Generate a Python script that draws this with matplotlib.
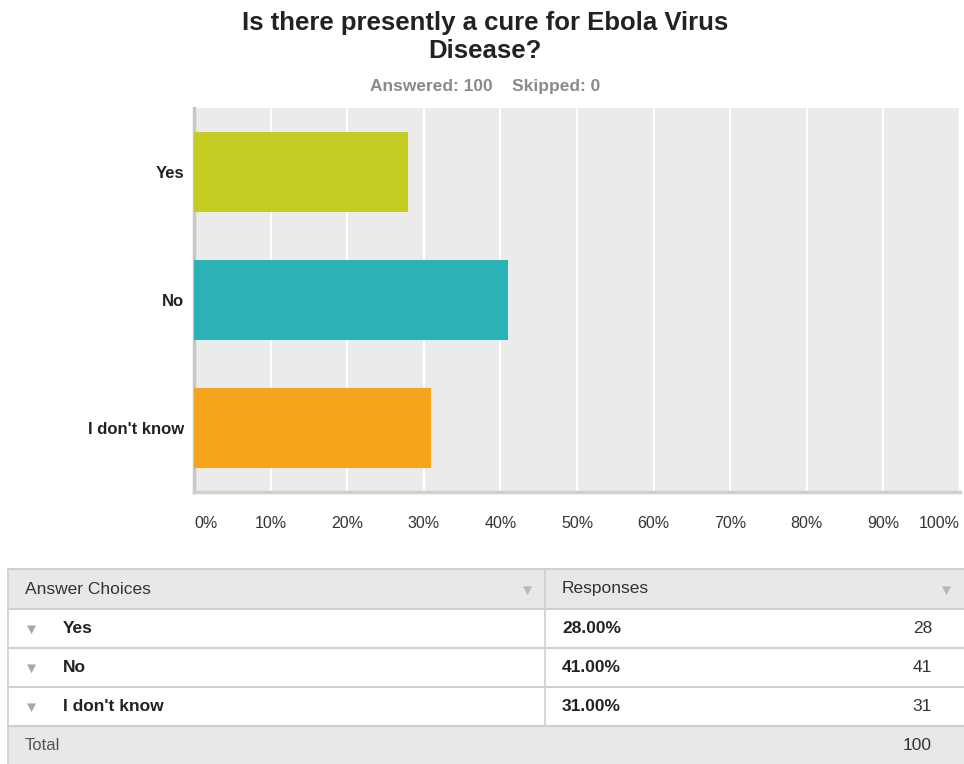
import numpy as np
import matplotlib.pyplot as plt
from matplotlib.patches import Rectangle

plt.rcParams['font.family'] = ['Liberation Sans', 'DejaVu Sans']

# data
categories = ["Yes", "No", "I don't know"]
percents = [28.0, 41.0, 31.0]
counts = [28, 41, 31]
colors = ["#c5cd22", "#2bb2b7", "#f5a51b"]
tick_vals = [0, 10, 20, 30, 40, 50, 60, 70, 80, 90, 100]
tick_labels = [f"{v}%" for v in tick_vals]
answered = 100
skipped = 0
title = "Is there presently a cure for Ebola Virus\nDisease?"

W, H = 964, 764
fig = plt.figure(figsize=(W / 100, H / 100), dpi=100)

# overlay axes in pixel coords for text + table
ov = fig.add_axes([0, 0, 1, 1])
ov.set_xlim(0, W)
ov.set_ylim(H, 0)
ov.axis('off')

# chart axes
x0, x1, y0, y1 = 194, 960, 108, 492
ax = fig.add_axes([x0 / W, 1 - y1 / H, (x1 - x0) / W, (y1 - y0) / H])
ax.set_facecolor('#ebebeb')
y = np.arange(len(categories))
ax.barh(y, percents, height=0.625, color=colors, zorder=3)
ax.set_xlim(0, 100)
ax.set_ylim(len(categories) - 0.5, -0.5)
ax.set_xticks(tick_vals)
ax.set_xticklabels(tick_labels, fontsize=11.5, color='#333333')
ax.set_yticks(y)
ax.set_yticklabels(categories, fontsize=12, fontweight='bold', color='#222222')
ax.tick_params(axis='x', length=0, pad=17)
ax.tick_params(axis='y', length=0, pad=7)
labs = ax.get_xticklabels()
labs[0].set_ha('left')
labs[-1].set_ha('right')
ax.grid(axis='x', color='white', linewidth=1.5, zorder=1)
for s in ['top', 'right']:
    ax.spines[s].set_visible(False)
ax.spines['left'].set_color('#c8c8c8')
ax.spines['left'].set_linewidth(2.5)
ax.spines['bottom'].set_color('#cfcfcf')
ax.spines['bottom'].set_linewidth(2.5)

# titles
ov.text(485, 37, title, ha='center', va='center', fontsize=18.5,
        fontweight='bold', color='#222222', linespacing=1.2)
ov.text(485, 86, f"Answered: {answered}    Skipped: {skipped}", ha='center',
        va='center', fontsize=12.5, fontweight='bold', color='#8a8a8a')

# table
tx0, tx1, xdiv = 8, 964, 545
row_h = 39
top = 569
line_c = '#cfcfcf'
ov.add_patch(Rectangle((tx0, top), tx1 - tx0, 40, color='#e8e8e8', lw=0))
ov.text(25, top + 20, "Answer Choices", ha='left', va='center', fontsize=12.5, color='#333333')
ov.text(562, top + 20, "Responses", ha='left', va='center', fontsize=12.5, color='#333333')
ov.text(527, top + 22, "▼", ha='center', va='center', fontsize=11, color='#b8b8b8')
ov.text(946, top + 22, "▼", ha='center', va='center', fontsize=11, color='#b8b8b8')
ry = top + 40
for i, cat in enumerate(categories):
    yc = ry + i * row_h + row_h / 2
    ov.text(31, yc + 1, "▼", ha='center', va='center', fontsize=11, color='#a8a8a8')
    ov.text(63, yc, cat, ha='left', va='center', fontsize=12.5, fontweight='bold', color='#222222')
    ov.text(562, yc, f"{percents[i]:.2f}%", ha='left', va='center', fontsize=12.5,
            fontweight='bold', color='#222222')
    ov.text(932, yc, str(counts[i]), ha='right', va='center', fontsize=12.5, color='#333333')
tot_y = ry + len(categories) * row_h
ov.add_patch(Rectangle((tx0, tot_y), tx1 - tx0, H - tot_y, color='#e8e8e8', lw=0))
ov.text(25, tot_y + 20, "Total", ha='left', va='center', fontsize=12, color='#555555')
ov.text(932, tot_y + 20, str(sum(counts)), ha='right', va='center', fontsize=12.5, color='#333333')
for k in range(len(categories) + 2):
    yy = top + (40 if k > 0 else 0) + max(k - 1, 0) * row_h
    ov.plot([tx0, tx1], [yy, yy], color=line_c, lw=1.5)
ov.plot([xdiv, xdiv], [top, tot_y], color=line_c, lw=1.2)
ov.plot([tx0, tx0], [top, H], color=line_c, lw=1.2)

fig.savefig('out.png', dpi=100)
